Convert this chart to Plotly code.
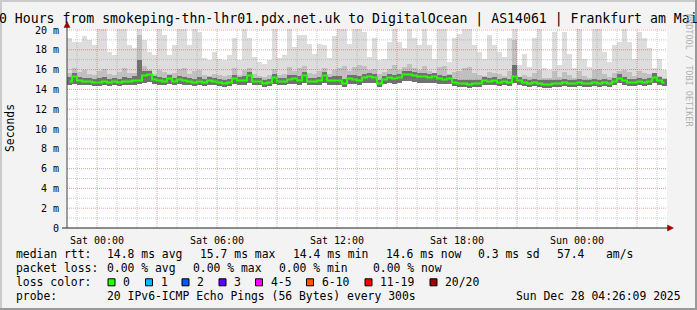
import numpy as np
import pandas as pd
import plotly.graph_objects as go

# ---------------- data (ms), one value per 15-minute interval ----------------
START = "2025-12-26 22:30"
N_INT = 120
INTERVAL_MIN = 15

median_rtt = [14.8, 15.3, 14.9, 14.8, 14.8, 14.7, 14.7, 14.8, 14.7, 14.8,
              14.7, 14.8, 14.8, 14.9, 14.9, 15.4, 15.5, 15.0, 14.9, 14.8,
              15.1, 14.8, 15.0, 14.9, 14.8, 14.7, 14.8, 14.7, 14.9, 14.8,
              14.7, 14.6, 14.7, 15.1, 14.9, 14.9, 15.4, 14.8, 14.8, 14.6,
              14.7, 15.2, 14.8, 14.8, 15.0, 15.1, 14.9, 15.4, 14.8, 14.8,
              14.9, 15.4, 14.9, 14.9, 14.9, 14.6, 15.1, 15.0, 14.9, 15.2,
              15.3, 15.2, 14.6, 15.0, 15.2, 15.1, 15.2, 15.5, 15.5, 15.4,
              15.3, 15.3, 15.2, 15.3, 15.1, 15.0, 15.1, 14.7, 14.6, 14.6,
              14.5, 14.6, 14.6, 14.9, 14.8, 14.9, 14.7, 14.8, 14.7, 15.3,
              14.9, 14.7, 14.6, 14.7, 14.6, 14.5, 14.5, 14.6, 14.6, 14.7,
              14.6, 14.6, 14.7, 14.6, 14.6, 14.7, 14.6, 14.7, 14.6, 14.8,
              15.1, 14.9, 14.7, 14.7, 14.8, 14.7, 14.8, 15.2, 14.9, 14.7]

smoke_max = [19.2, 18.8, 18.8, 19.4, 19.0, 18.5, 20.5, 20.5, 17.8, 17.5,
             20.5, 20.5, 18.5, 18.2, 20.5, 19.0, 17.8, 17.5, 20.5, 19.5,
             17.5, 18.5, 20.5, 20.5, 18.5, 20.5, 19.8, 17.2, 17.0, 17.8,
             17.1, 17.0, 17.5, 19.2, 17.0, 20.5, 19.2, 17.3, 16.8, 16.6,
             17.0, 20.5, 17.2, 17.5, 20.5, 18.3, 19.5, 19.5, 18.6, 17.6,
             18.6, 18.5, 17.2, 19.4, 20.2, 20.5, 18.6, 20.5, 20.5, 19.8,
             17.3, 19.2, 17.0, 17.1, 18.8, 20.3, 18.8, 18.2, 20.3, 19.2,
             18.5, 20.3, 18.5, 17.1, 20.3, 20.3, 16.8, 19.2, 19.6, 20.3,
             20.3, 18.5, 17.8, 17.1, 19.5, 18.5, 17.8, 17.3, 19.2, 20.3,
             16.5, 17.6, 16.3, 19.2, 20.3, 16.2, 16.0, 19.8, 16.5, 19.8,
             17.6, 16.2, 20.3, 17.1, 16.3, 20.3, 20.3, 17.8, 16.8, 18.5,
             18.8, 20.3, 18.8, 17.1, 19.8, 19.2, 18.2, 16.2, 17.1, 16.0]

smoke_mid = [15.7, 16.2, 15.8, 16.0, 15.6, 15.5, 15.9, 16.1, 15.6, 15.5,
             15.8, 16.2, 15.7, 15.7, 19.5, 16.4, 16.0, 15.6, 16.0, 15.8,
             15.6, 15.7, 16.1, 16.2, 15.6, 15.9, 16.0, 15.5, 15.4, 15.6,
             15.5, 15.4, 15.5, 16.2, 15.5, 16.0, 16.2, 15.6, 15.4, 15.3,
             15.5, 16.1, 15.5, 15.6, 16.3, 15.9, 16.2, 16.4, 15.7, 15.6,
             15.9, 16.2, 15.6, 16.0, 16.2, 16.4, 15.9, 16.3, 16.5, 16.4,
             16.0, 16.1, 15.6, 15.8, 16.1, 16.5, 16.0, 16.3, 16.6, 16.2,
             16.0, 16.4, 15.9, 15.7, 16.3, 16.4, 15.6, 15.8, 15.9, 16.2,
             16.3, 15.7, 15.5, 15.4, 15.8, 15.7, 15.6, 15.4, 15.9, 19.0,
             15.3, 15.5, 15.3, 15.7, 16.0, 15.2, 15.2, 15.9, 15.3, 15.8,
             15.5, 15.2, 15.9, 15.4, 15.2, 16.0, 16.1, 15.6, 15.3, 15.7,
             15.9, 16.0, 15.8, 15.4, 15.9, 15.7, 15.6, 15.5, 15.4, 15.2]

smoke_dark = [15.3, 15.7, 15.3, 15.2, 15.2, 15.1, 15.2, 15.3, 15.1, 15.2,
              15.1, 15.3, 15.2, 15.4, 17.0, 15.9, 15.9, 15.4, 15.3, 15.2,
              15.5, 15.2, 15.4, 15.3, 15.2, 15.1, 15.3, 15.1, 15.3, 15.2,
              15.1, 15.0, 15.1, 15.5, 15.3, 15.4, 15.8, 15.2, 15.2, 15.0,
              15.1, 15.6, 15.2, 15.2, 15.5, 15.5, 15.4, 15.8, 15.2, 15.2,
              15.3, 15.8, 15.3, 15.4, 15.4, 15.1, 15.5, 15.5, 15.4, 15.6,
              15.7, 15.6, 15.0, 15.4, 15.6, 15.5, 15.6, 15.9, 15.9, 15.8,
              15.7, 15.7, 15.6, 15.7, 15.5, 15.4, 15.5, 15.1, 15.0, 15.0,
              14.9, 15.0, 15.0, 15.3, 15.2, 15.3, 15.1, 15.2, 15.1, 16.5,
              15.3, 15.1, 15.0, 15.1, 15.0, 14.9, 14.9, 15.0, 15.0, 15.1,
              15.0, 15.0, 15.1, 15.0, 15.0, 15.1, 15.0, 15.1, 15.0, 15.2,
              15.6, 15.3, 15.1, 15.1, 15.2, 15.1, 15.2, 15.7, 15.3, 15.1]

smoke_min = [14.4, 14.5, 14.4, 14.4, 14.4, 14.3, 14.3, 14.4, 14.3, 14.4,
             14.3, 14.4, 14.4, 14.4, 14.5, 14.6, 14.7, 14.5, 14.4, 14.4,
             14.5, 14.4, 14.5, 14.4, 14.4, 14.3, 14.4, 14.3, 14.4, 14.4,
             14.3, 14.2, 14.3, 14.5, 14.4, 14.4, 14.6, 14.4, 14.4, 14.2,
             14.3, 14.5, 14.4, 14.4, 14.5, 14.5, 14.4, 14.6, 14.4, 14.4,
             14.4, 14.6, 14.4, 14.4, 14.4, 14.2, 14.5, 14.5, 14.4, 14.6,
             14.6, 14.6, 14.2, 14.5, 14.6, 14.5, 14.6, 14.8, 14.8, 14.7,
             14.6, 14.6, 14.6, 14.6, 14.5, 14.5, 14.5, 14.3, 14.2, 14.2,
             14.1, 14.2, 14.2, 14.4, 14.4, 14.4, 14.3, 14.4, 14.3, 14.6,
             14.4, 14.3, 14.2, 14.3, 14.2, 14.1, 14.1, 14.2, 14.2, 14.3,
             14.2, 14.2, 14.3, 14.2, 14.2, 14.3, 14.2, 14.3, 14.2, 14.4,
             14.6, 14.4, 14.3, 14.3, 14.4, 14.3, 14.4, 14.6, 14.4, 14.3]

x_tick_times = ["2025-12-27 00:00", "2025-12-27 06:00", "2025-12-27 12:00",
                "2025-12-27 18:00", "2025-12-28 00:00"]
x_tick_labels = ["Sat 00:00", "Sat 06:00", "Sat 12:00", "Sat 18:00", "Sun 00:00"]
y_tick_vals = [0, 2, 4, 6, 8, 10, 12, 14, 16, 18, 20]
y_tick_labels = ["0", "2 m", "4 m", "6 m", "8 m", "10 m", "12 m", "14 m",
                 "16 m", "18 m", "20 m"]

title_text = ("30 Hours from smokeping-thn-lhr01.pdx.net.uk to DigitalOcean | "
              "AS14061 | Frankfurt am Main")
loss_labels = ["0", "1", "2", "3", "4-5", "6-10", "11-19", "20/20"]
loss_colors = ["#26ff00", "#00b8ff", "#0059ff", "#5e00ff", "#ff00ff",
               "#ff5500", "#ff0000", "#a10000"]

# ---------------- layout constants ----------------
W, H = 697, 310
ML, MR, MT, MB = 67, 30, 29, 82
PW, PH = W - ML - MR, H - MT - MB
PX_PER_MS = 9.9
MONO = "DejaVu Sans Mono"
LEG_SIZE = 11.4


def px2x(px):
    return (px - ML) / PW


def py2y(py):
    return (H - MB - py) / PH


t0 = pd.Timestamp(START)
t_end = t0 + pd.Timedelta(hours=30)
centers = t0 + pd.to_timedelta(np.arange(N_INT) * INTERVAL_MIN + INTERVAL_MIN / 2, unit="min")
bar_w = INTERVAL_MIN * 60 * 1000

med = np.array(median_rtt)
lo = np.array(smoke_min)

fig = go.Figure()
for top, col in [(smoke_max, "#dddddd"), (smoke_mid, "#c0c0c0"), (smoke_dark, "#707070")]:
    top = np.array(top)
    fig.add_trace(go.Bar(x=centers, y=top - lo, base=lo, width=bar_w,
                         marker=dict(color=col, line=dict(width=0)),
                         hoverinfo="skip", showlegend=False))
fig.add_trace(go.Scatter(x=centers, y=med, mode="lines",
                         line=dict(color="#26ff00", width=2, shape="hvh"),
                         hoverinfo="skip", showlegend=False))

shapes = []
# grid (drawn above the smoke, like rrdtool)
minor_c = "rgba(140,140,140,0.45)"
major_c = "rgba(200,30,30,0.42)"
for v in range(1, 21):
    shapes.append(dict(type="line", xref="paper", yref="y", x0=0, x1=1, y0=v, y1=v,
                       line=dict(color=major_c if v % 2 == 0 else minor_c, width=1,
                                 dash="1px,1px"), layer="above"))
hours = pd.date_range(t0.ceil("h"), t_end, freq="h")
for h in hours:
    if h >= t_end:
        continue
    shapes.append(dict(type="line", xref="x", yref="paper", x0=h, x1=h, y0=0, y1=1,
                       line=dict(color=major_c if h.hour % 3 == 0 else minor_c, width=1,
                                 dash="1px,1px"), layer="above"))
# axes lines
axis_c = "#202020"
shapes.append(dict(type="line", xref="paper", yref="paper", x0=px2x(62), x1=px2x(668),
                   y0=py2y(228), y1=py2y(228), line=dict(color=axis_c, width=1), layer="above"))
shapes.append(dict(type="line", xref="paper", yref="paper", x0=px2x(67), x1=px2x(67),
                   y0=py2y(228), y1=py2y(25), line=dict(color="#404040", width=1), layer="above"))
arrow_c = "#a00000"
shapes.append(dict(type="path", xref="paper", yref="paper", layer="above",
                   path=f"M {px2x(667.5)} {py2y(225)} L {px2x(673.5)} {py2y(228)} L {px2x(667.5)} {py2y(231)} Z",
                   fillcolor=arrow_c, line=dict(color=arrow_c, width=0.5)))
shapes.append(dict(type="path", xref="paper", yref="paper", layer="above",
                   path=f"M {px2x(64)} {py2y(27.5)} L {px2x(67)} {py2y(21.5)} L {px2x(70)} {py2y(27.5)} Z",
                   fillcolor=arrow_c, line=dict(color=arrow_c, width=0.5)))
# frame
shapes.append(dict(type="rect", xref="paper", yref="paper", x0=px2x(0), x1=px2x(2),
                   y0=py2y(310), y1=py2y(0), fillcolor="#cbcbcb", line=dict(width=0)))
shapes.append(dict(type="rect", xref="paper", yref="paper", x0=px2x(0), x1=px2x(697),
                   y0=py2y(2), y1=py2y(0), fillcolor="#cbcbcb", line=dict(width=0)))
shapes.append(dict(type="rect", xref="paper", yref="paper", x0=px2x(695), x1=px2x(697),
                   y0=py2y(310), y1=py2y(0), fillcolor="#999999", line=dict(width=0)))
shapes.append(dict(type="rect", xref="paper", yref="paper", x0=px2x(0), x1=px2x(697),
                   y0=py2y(310), y1=py2y(308), fillcolor="#999999", line=dict(width=0)))

annotations = []


def txt(text, x, y, size=LEG_SIZE, anchor="left", color="#000", angle=0):
    annotations.append(dict(text=text, x=px2x(x), y=py2y(y), xref="paper", yref="paper",
                            xanchor=anchor, yanchor="middle", showarrow=False,
                            textangle=angle, borderpad=0, borderwidth=0,
                            font=dict(family=MONO, size=size, color=color)))


txt(title_text, 348.5, 19, size=13.2, anchor="center")
txt("Seconds", 10, 128, size=11.4, anchor="center", angle=-90)
txt("RRDTOOL / TOBI OETIKER", 689, 70, size=8.5, anchor="center", color="#b0b0b0", angle=90)

row_y = [254.3, 267.8, 282.3, 295.8]
txt("median rtt:", 15.5, row_y[0])
for s, x in [("14.8 ms avg", 106.5), ("15.7 ms max", 199.5), ("14.4 ms min", 292.5),
             ("14.6 ms now", 386), ("0.3 ms sd", 477.5), ("57.4", 557), ("am/s", 606)]:
    txt(s, x, row_y[0])
txt("packet loss:", 15.5, row_y[1])
for s, x in [("0.00 % avg", 106.5), ("0.00 % max", 192.5), ("0.00 % min", 278.5),
             ("0.00 % now", 372.5)]:
    txt(s, x, row_y[1])
txt("loss color:", 15.5, row_y[2])
box_x = [108, 145.5, 182, 219, 255.5, 306.5, 365, 430]
for lab, col, bx in zip(loss_labels, loss_colors, box_x):
    shapes.append(dict(type="rect", xref="paper", yref="paper", x0=px2x(bx), x1=px2x(bx + 7),
                       y0=py2y(row_y[2] + 3.5), y1=py2y(row_y[2] - 3.5),
                       fillcolor=col, line=dict(color="#000", width=1)))
    txt(lab, bx + 15, row_y[2])
txt("probe:", 15.5, row_y[3])
txt("20 IPv6-ICMP Echo Pings (56 Bytes) every 300s", 106.5, row_y[3])
txt("Sun Dec 28 04:26:09 2025", 680.5, row_y[3], anchor="right")

fig.update_layout(
    width=W, height=H,
    margin=dict(l=ML, r=MR, t=MT, b=MB, pad=0),
    paper_bgcolor="#f3f3f3", plot_bgcolor="#ffffff",
    barmode="overlay", bargap=0,
    showlegend=False,
    shapes=shapes, annotations=annotations,
    xaxis=dict(type="date", range=[t0, t_end], showgrid=False, zeroline=False,
               showline=False, tickmode="array", tickvals=x_tick_times,
               ticktext=x_tick_labels, ticks="outside", ticklen=3,
               tickcolor="rgba(0,0,0,0)",
               tickfont=dict(family=MONO, size=10, color="#000"), fixedrange=True),
    yaxis=dict(range=[0, PH / PX_PER_MS], showgrid=False, zeroline=False, showline=False,
               tickmode="array", tickvals=y_tick_vals, ticktext=y_tick_labels,
               ticks="outside", ticklen=5, tickcolor="rgba(0,0,0,0)",
               tickfont=dict(family=MONO, size=10, color="#000"), fixedrange=True),
)

fig.write_html("out.html")
